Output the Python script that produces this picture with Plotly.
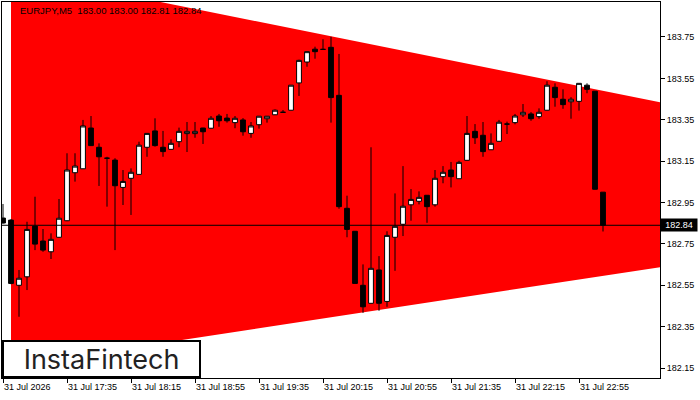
import plotly.graph_objects as go
import pandas as pd

symbol = "EURJPY,M5"
times = pd.date_range("2026-07-31 16:55", periods=76, freq="5min")

opens = [182.875, 182.865, 182.550, 182.591, 182.836, 182.764, 182.712, 182.782, 182.862, 183.094,
         183.113, 183.310, 183.217, 183.164, 183.155, 183.023, 183.067, 183.086, 183.217, 183.296,
         183.217, 183.207, 183.244, 183.283, 183.283, 183.310, 183.309, 183.368, 183.358, 183.336,
         183.349, 183.284, 183.326, 183.355, 183.374, 183.386, 183.396, 183.528, 183.629, 183.691,
         183.690, 183.700, 183.468, 182.922, 182.811, 182.550, 182.463, 182.624, 182.472, 182.782,
         182.845, 182.939, 182.956, 182.985, 182.939, 183.075, 183.107, 183.065, 183.154, 183.294,
         183.275, 183.205, 183.246, 183.329, 183.336, 183.374, 183.378, 183.365, 183.396, 183.507,
         183.449, 183.437, 183.439, 183.517, 183.488, 183.000]
highs = [182.943, 182.870, 182.624, 182.857, 182.978, 182.822, 182.801, 182.967, 183.188, 183.188,
         183.349, 183.368, 183.236, 183.171, 183.164, 183.107, 183.115, 183.244, 183.285, 183.357,
         183.296, 183.255, 183.312, 183.339, 183.339, 183.311, 183.368, 183.378, 183.378, 183.368,
         183.358, 183.339, 183.368, 183.368, 183.400, 183.397, 183.518, 183.640, 183.680, 183.703,
         183.739, 183.751, 183.668, 182.983, 182.812, 182.651, 183.217, 182.691, 182.811, 182.994,
         183.126, 183.015, 183.004, 182.986, 183.107, 183.126, 183.146, 183.152, 183.368, 183.329,
         183.339, 183.284, 183.349, 183.341, 183.378, 183.426, 183.387, 183.405, 183.536, 183.526,
         183.497, 183.459, 183.527, 183.526, 183.489, 183.000]
lows = [182.848, 182.555, 182.398, 182.527, 182.720, 182.712, 182.677, 182.780, 182.860, 183.051,
        183.112, 183.224, 183.030, 182.930, 182.720, 182.938, 182.890, 183.085, 183.171, 183.220,
        183.171, 183.206, 183.217, 183.194, 183.263, 183.233, 183.308, 183.316, 183.336, 183.309,
        183.273, 183.263, 183.307, 183.336, 183.373, 183.386, 183.395, 183.465, 183.606, 183.645,
        183.690, 183.336, 182.920, 182.782, 182.558, 182.417, 182.462, 182.427, 182.446, 182.620,
        182.788, 182.862, 182.941, 182.852, 182.930, 183.043, 183.023, 183.064, 183.153, 183.233,
        183.171, 183.204, 183.245, 183.281, 183.328, 183.363, 183.345, 183.355, 183.395, 183.413,
        183.403, 183.355, 183.394, 183.478, 183.013, 182.810]
closes = [182.851, 182.559, 182.584, 182.820, 182.749, 182.720, 182.772, 182.874, 183.107, 183.126,
          183.320, 183.225, 183.171, 183.164, 183.031, 183.052, 183.096, 183.227, 183.284, 183.225,
          183.196, 183.236, 183.294, 183.294, 183.294, 183.292, 183.357, 183.345, 183.345, 183.357,
          183.292, 183.320, 183.367, 183.367, 183.396, 183.386, 183.517, 183.637, 183.679, 183.679,
          183.690, 183.457, 182.930, 182.820, 182.559, 182.446, 182.632, 182.463, 182.791, 182.835,
          182.932, 182.965, 182.975, 182.930, 183.067, 183.096, 183.075, 183.144, 183.284, 183.263,
          183.196, 183.236, 183.338, 183.329, 183.368, 183.386, 183.355, 183.386, 183.517, 183.457,
          183.423, 183.449, 183.526, 183.497, 183.014, 182.840]

tick_times = ["2026-07-31 16:55", "2026-07-31 17:35", "2026-07-31 18:15", "2026-07-31 18:55",
              "2026-07-31 19:35", "2026-07-31 20:15", "2026-07-31 20:55", "2026-07-31 21:35",
              "2026-07-31 22:15", "2026-07-31 22:55"]
tick_text = ["31 Jul 2026", "31 Jul 17:35", "31 Jul 18:15", "31 Jul 18:55", "31 Jul 19:35",
             "31 Jul 20:15", "31 Jul 20:55", "31 Jul 21:35", "31 Jul 22:15", "31 Jul 22:55"]
y_ticks = [182.15, 182.35, 182.55, 182.75, 182.95, 183.15, 183.35, 183.55, 183.75]

# symmetrical triangle pattern boundaries (bar positions and prices)
pattern_bars = [1.0, 82.2]
pattern_upper = [184.064, 183.434]
pattern_lower = [182.160, 182.638]

# bar index axis (one unit per 5-minute bar)
bar_idx = list(range(len(times)))
tick_idx = [bar_idx[list(times).index(pd.Timestamp(t))] for t in tick_times]
x_range = [-0.125, 82.125]
y_range = [182.102, 183.919]

fig = go.Figure()

fig.add_trace(go.Candlestick(
    x=bar_idx, open=opens, high=highs, low=lows, close=closes,
    increasing=dict(fillcolor="white", line=dict(color="black", width=1)),
    decreasing=dict(fillcolor="black", line=dict(color="black", width=1)),
    whiskerwidth=0, hoverinfo="skip", showlegend=False))

# current price line
fig.add_trace(go.Scatter(
    x=x_range, y=[closes[-1], closes[-1]], mode="lines",
    line=dict(color="black", width=1), hoverinfo="skip", showlegend=False))

path = (f"M {pattern_bars[0]},{pattern_upper[0]} L {pattern_bars[1]},{pattern_upper[1]} "
        f"L {pattern_bars[1]},{pattern_lower[1]} L {pattern_bars[0]},{pattern_lower[0]} Z")
fig.add_shape(type="path", path=path, xref="x", yref="y", layer="below",
              fillcolor="#ff0000", line=dict(width=0))

fig.update_layout(
    width=700, height=400,
    margin=dict(l=2, r=40, t=2, b=22),
    paper_bgcolor="white", plot_bgcolor="white",
    font=dict(family="Liberation Sans, Arial, sans-serif", size=9, color="black"),
    boxgap=0.4, boxgroupgap=0, showlegend=False,
    xaxis=dict(range=x_range, tickvals=tick_idx, ticktext=tick_text,
               ticks="outside", ticklen=4, tickcolor="black", ticklabelposition="outside right",
               showline=True, linecolor="black", linewidth=1, mirror=True, automargin=False,
               showgrid=False, zeroline=False, tickfont=dict(size=9), rangeslider=dict(visible=False)),
    yaxis=dict(side="right", range=y_range, tickvals=y_ticks,
               ticktext=[f"{v:.2f}" for v in y_ticks], automargin=False,
               ticks="outside", ticklen=4, tickcolor="black",
               showline=True, linecolor="black", linewidth=1, mirror=True,
               showgrid=False, zeroline=False, tickfont=dict(size=9)),
)

fig.add_annotation(
    text=f"{symbol}\u00a0\u00a0{opens[-1]:.2f} {highs[-1]:.2f} {lows[-1]:.2f} {closes[-1]:.2f}",
    xref="paper", yref="paper", x=16 / 658, y=1, xanchor="left", yanchor="top", yshift=-1,
    showarrow=False, font=dict(size=9.5, color="black"))

fig.add_annotation(
    text=f"{closes[-1]:.2f}", xref="paper", yref="y", x=1, y=closes[-1],
    xanchor="left", yanchor="middle", showarrow=False, bgcolor="black",
    width=36, height=12, borderpad=0, font=dict(size=9, color="white"))

fig.add_annotation(
    text="InstaFintech", xref="paper", yref="paper", x=0, y=0, xanchor="left", yanchor="bottom",
    showarrow=False, bgcolor="white", bordercolor="black", borderwidth=2, borderpad=0,
    width=195, height=34, align="center",
    font=dict(family="Inter, Lato, sans-serif", size=27, color="#222222"))

fig.write_html("out.html", config={"displayModeBar": False},
               post_script="document.body.style.margin='0px';document.body.style.padding='0px';")
